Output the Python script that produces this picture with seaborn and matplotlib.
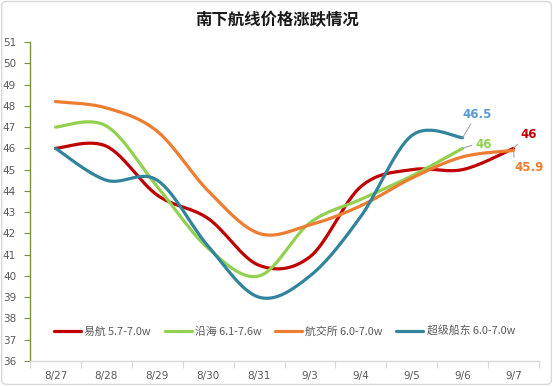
import numpy as np
import pandas as pd
import matplotlib
matplotlib.use("Agg")
import matplotlib.pyplot as plt
import seaborn as sns
from matplotlib.patches import FancyBboxPatch

dates = ['8/27', '8/28', '8/29', '8/30', '8/31', '9/3', '9/4', '9/5', '9/6', '9/7']
yihang = [46.0, 46.1, 43.8, 42.7, 40.5, 40.9, 44.2, 45.0, 45.0, 46.0]
yanhai = [47.0, 47.05, 44.2, 41.3, 40.0, 42.5, 43.6, 44.7, 46.0, np.nan]
hangjiaosuo = [48.2, 47.9, 46.8, 44.0, 42.0, 42.4, 43.3, 44.6, 45.6, 45.9]
chuandong = [46.0, 44.5, 44.5, 41.4, 39.0, 40.0, 42.8, 46.6, 46.5, np.nan]

series_names = ['易航 5.7-7.0w', '沿海 6.1-7.6w', '航交所 6.0-7.0w', '超级船东 6.0-7.0w']
series_vals = [yihang, yanhai, hangjiaosuo, chuandong]
colors = ['#C00000', '#92D050', '#ED7D31', '#31849B']
label_colors = ['#C00000', '#92D050', '#ED7D31', '#5B9BD5']

sns.set_theme(style="white")
plt.rcParams['font.family'] = ['Noto Sans CJK SC', 'DejaVu Sans']


def smooth(xs, ys, n=30):
    """Excel-like smoothed line (Catmull-Rom Bezier)."""
    P = np.column_stack([xs, ys])
    out = []
    m = len(P)
    for i in range(m - 1):
        p0 = P[i - 1] if i > 0 else P[i]
        p1 = P[i]
        p2 = P[i + 1]
        p3 = P[i + 2] if i + 2 < m else P[i + 1]
        b1 = p1 + (p2 - p0) / 6.0
        b2 = p2 - (p3 - p1) / 6.0
        t = np.linspace(0, 1, n)[:, None]
        seg = ((1 - t) ** 3) * p1 + 3 * ((1 - t) ** 2) * t * b1 + 3 * (1 - t) * t ** 2 * b2 + t ** 3 * p2
        if i > 0:
            seg = seg[1:]
        out.append(seg)
    out = np.vstack(out)
    return out[:, 0], out[:, 1]


fig = plt.figure(figsize=(5.53, 3.86), dpi=100)
fig.patch.set_facecolor('white')
ax = fig.add_axes([30 / 553, 1 - 361 / 386, (539 - 30) / 553, (361 - 42) / 386])

for name, vals, c in zip(series_names, series_vals, colors):
    arr = np.array(vals, dtype=float)
    idx = np.where(~np.isnan(arr))[0]
    sx, sy = smooth(idx.astype(float), arr[idx])
    df = pd.DataFrame({'x': sx, 'y': sy})
    sns.lineplot(data=df, x='x', y='y', ax=ax, color=c, linewidth=2.3,
                 label=name, sort=False, estimator=None)

ax.set_xlim(-0.5, len(dates) - 0.5)
ax.set_ylim(36, 51)
ax.set_yticks(np.arange(36, 52, 1))
ax.set_xticks(range(len(dates)))
ax.set_xticklabels(dates)
ax.set_xticks(np.arange(-0.5, len(dates), 1), minor=True)
ax.set_xlabel('')
ax.set_ylabel('')

for s in ['top', 'right']:
    ax.spines[s].set_visible(False)
ax.spines['left'].set_color('#77933C')
ax.spines['left'].set_linewidth(1.0)
ax.spines['bottom'].set_color('#D9D9D9')
ax.spines['bottom'].set_linewidth(1.0)

ax.tick_params(axis='y', which='major', left=True, length=4, width=0.8, color='#77933C',
               labelsize=7.5, labelcolor='#595959', pad=6)
ax.tick_params(axis='x', which='major', bottom=False, length=0, labelsize=7.5,
               labelcolor='#595959', pad=7)
ax.tick_params(axis='x', which='minor', bottom=True, length=5, width=0.8, color='#D9D9D9')
for lbl in ax.get_yticklabels() + ax.get_xticklabels():
    lbl.set_fontfamily(['DejaVu Sans'])

leg = ax.legend(loc='center', bbox_to_anchor=(0.5, (331 - 361) / -(361 - 42)), ncol=4,
                frameon=False, fontsize=7.8, handlelength=2.5, handletextpad=0.3,
                columnspacing=1.25, borderaxespad=0)
for t in leg.get_texts():
    t.set_color('#595959')
for line in leg.get_lines():
    line.set_linewidth(2.3)

fig.text(0.5, 1 - 20 / 386, '南下航线价格涨跌情况', ha='center', va='center',
         fontsize=11.8, fontweight='bold', color='#1A1A1A')

# end-of-line data labels with leader lines
def endlabel(vals, color, dx_end, dy_end, text_dx, text_dy):
    arr = np.array(vals, dtype=float)
    i = int(np.where(~np.isnan(arr))[0][-1])
    y = arr[i]
    ax.annotate(f'{y:g}', xy=(i, y), xytext=(dx_end, dy_end), textcoords='offset points',
                color=color, fontsize=8.5, fontweight='bold', ha='center', va='center',
                family=['DejaVu Sans'],
                arrowprops=dict(arrowstyle='-', color='#A6A6A6', lw=0.8,
                                shrinkA=0, shrinkB=0, relpos=(text_dx, text_dy)))

endlabel(chuandong, label_colors[3], 10.5, 17, 0.35, 0.0)
endlabel(yanhai, label_colors[1], 15, 3, 0.0, 0.5)
endlabel(yihang, label_colors[0], 11, 10, 0.0, 0.0)
endlabel(hangjiaosuo, label_colors[2], 11, -12, 0.0, 1.0)

# outer border
border = FancyBboxPatch((0.003, 0.004), 0.994, 0.992, boxstyle='round,pad=0,rounding_size=0.01',
                        transform=fig.transFigure, fill=False, edgecolor='#D9D9D9', linewidth=1.0)
fig.patches.append(border)

fig.savefig('out.png', dpi=100)
